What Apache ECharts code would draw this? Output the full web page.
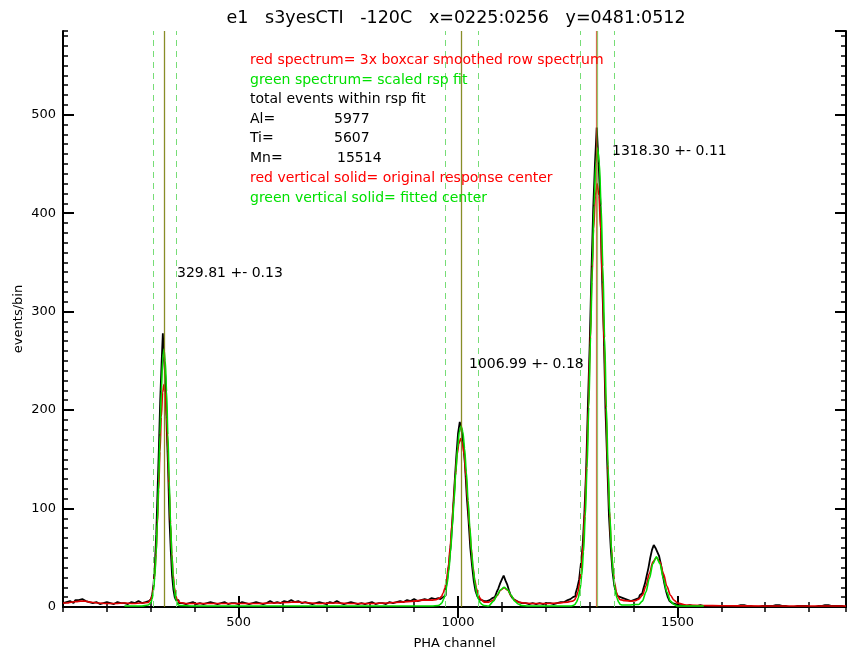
<!DOCTYPE html>
<html>
<head>
<meta charset="utf-8">
<title>e1 s3yesCTI -120C</title>
<script src="https://cdn.jsdelivr.net/npm/echarts@6/dist/echarts.min.js"></script>
<style>
  html, body { margin: 0; padding: 0; background: #fff; }
  #chart { width: 848px; height: 652px; }
</style>
</head>
<body>
<div id="chart"></div>
<script>
// raw row spectrum (black)
var rawChan = [100, 108, 116, 124, 132, 140, 148, 156, 164, 172, 180, 188, 196, 204, 212, 220, 228, 236, 244, 252, 260, 268, 276, 284, 292,
  299, 302, 305, 308, 311, 314, 317, 320, 323, 326, 329, 332, 335, 338, 341, 344, 347, 350, 353, 356, 359,
  368, 376, 384, 392, 400, 408, 416, 424, 432, 440, 448, 456, 464, 472, 480, 488, 496, 504, 512, 520, 528, 536, 544, 552, 560, 568,
  576, 584, 592, 600, 608, 616, 624, 632, 640, 648, 656, 664, 672, 680, 688, 696, 704, 712, 720, 728, 736, 744, 752, 760, 768, 776,
  784, 792, 800, 808, 816, 824, 832, 840, 848, 856, 864, 872, 880, 888, 896, 904, 912, 920, 928, 936, 944, 952,
  958, 962, 966, 970, 974, 978, 982, 986, 990, 994, 998, 1002, 1006, 1010, 1014, 1018, 1022, 1026, 1030, 1034, 1038, 1042, 1046, 1050, 1054, 1058, 1062,
  1066, 1070, 1074, 1078, 1082, 1086, 1090, 1094, 1098, 1102, 1106, 1110, 1114, 1118, 1122, 1126, 1130, 1134,
  1142, 1150, 1158, 1166, 1174, 1182, 1190, 1198, 1206, 1214, 1222, 1230, 1238, 1246, 1254,
  1258, 1262, 1266, 1270, 1274, 1278, 1282, 1286, 1290, 1294, 1298, 1302, 1306, 1310, 1314, 1318, 1322, 1326, 1330, 1334, 1338, 1342, 1346, 1350, 1354, 1358, 1362, 1366, 1370, 1374, 1378, 1382,
  1388, 1394, 1400, 1406, 1412, 1416, 1420, 1424, 1428, 1432, 1436, 1440, 1444, 1448, 1452, 1456, 1460, 1464, 1468, 1472, 1476, 1480, 1484, 1488, 1492,
  1500, 1508, 1516, 1524, 1532, 1540, 1548, 1556, 1564, 1580, 1596, 1612, 1628, 1644, 1660, 1676, 1692, 1708, 1724, 1740, 1756, 1772, 1788, 1804, 1820, 1836, 1852, 1868, 1884];
var rawCounts = [4, 5, 6, 4, 7, 8, 6, 5, 4, 5, 3, 4, 5, 4, 3, 5, 4, 4, 3, 5, 4, 6, 4, 5, 6,
  6, 8, 13, 24, 44, 74, 118, 162, 210, 246, 278, 250, 232, 180, 140, 90, 58, 32, 18, 10, 7,
  4, 3, 4, 5, 3, 4, 3, 4, 5, 4, 3, 4, 5, 3, 4, 4, 3, 5, 4, 3, 4, 5, 4, 3, 4, 6,
  4, 5, 4, 6, 5, 7, 5, 6, 4, 5, 4, 3, 4, 5, 4, 3, 5, 4, 6, 4, 3, 4, 5, 4, 3, 4,
  3, 4, 5, 3, 4, 4, 3, 5, 4, 5, 6, 5, 7, 6, 8, 6, 7, 8, 7, 9, 8, 9,
  8, 9, 10, 12, 18, 30, 46, 66, 94, 124, 152, 176, 188, 180, 166, 144, 112, 88, 60, 42, 26, 16, 11, 8, 7, 6, 6,
  6, 7, 7, 9, 10, 12, 15, 19, 24, 28, 32, 27, 23, 17, 12, 9, 7, 5,
  4, 4, 3, 4, 3, 4, 3, 4, 4, 3, 4, 5, 5, 7, 8,
  9, 10, 11, 14, 20, 28, 44, 62, 96, 140, 206, 266, 340, 404, 450, 487, 454, 414, 338, 280, 200, 146, 92, 60, 36, 22, 14, 11, 10, 9, 8, 8,
  7, 6, 7, 8, 9, 12, 14, 18, 24, 32, 40, 50, 58, 63, 60, 56, 52, 44, 34, 24, 16, 10, 6, 4, 3,
  2, 2, 1, 2, 1, 1, 2, 1, 0, 1, 1, 0, 1, 2, 1, 0, 1, 1, 2, 1, 0, 1, 1, 0, 1, 2, 1, 1, 0];

// 3x boxcar smoothed spectrum (red)
var smoothChan = [100, 110, 120, 130, 140, 150, 160, 170, 180, 200, 220, 240, 260, 280, 294,
  300, 303, 306, 309, 312, 315, 318, 321, 324, 327, 330, 333, 336, 339, 342, 345, 348, 351, 354, 357, 360, 366,
  380, 420, 460, 500, 540, 580, 610, 630, 650, 680, 720, 760, 800, 840, 870, 900, 920, 940, 950,
  958, 962, 966, 970, 974, 978, 982, 986, 990, 994, 998, 1002, 1006, 1010, 1014, 1018, 1022, 1026, 1030, 1034, 1038, 1042, 1046, 1050, 1054,
  1060, 1070, 1081, 1089, 1097, 1105, 1113, 1121, 1129, 1137, 1150, 1170, 1200, 1230, 1250,
  1261, 1265, 1269, 1273, 1277, 1281, 1285, 1289, 1293, 1297, 1301, 1305, 1309, 1313, 1317, 1321, 1325, 1329, 1333, 1337, 1341, 1345, 1349, 1353, 1357, 1361, 1365, 1369,
  1380, 1395, 1404, 1412, 1420, 1428, 1436, 1444, 1452, 1460, 1468, 1476, 1484, 1492, 1500, 1520, 1560, 1600, 1700, 1800, 1884];
var smoothCounts = [4, 4, 5, 5.5, 6, 6, 5, 4.5, 4, 3.5, 3.5, 4, 3.5, 4, 4.5,
  7.5, 11.5, 19.5, 33, 54, 84, 119, 158, 193, 218, 226, 218, 193, 158, 119, 84, 54, 33, 19.5, 11.5, 7.5, 4.5,
  3.5, 3.5, 3.5, 3.5, 3.5, 4, 4.5, 5, 4.5, 3.5, 4, 3.5, 3.5, 4, 5, 6, 7, 7, 7.5,
  9, 10.5, 14, 19, 28, 41, 60, 83, 108, 133, 155, 166, 171, 166, 155, 133, 108, 83, 60, 41, 28, 19, 13, 9, 7,
  5, 5, 7, 11.5, 17, 19.5, 17, 11.5, 7, 5, 4, 3.5, 3.5, 4, 5,
  6, 7, 9.5, 15, 24, 39, 63, 98, 145, 202, 266, 330, 384, 418, 430, 418, 384, 330, 266, 202, 145, 98, 63, 39, 24, 15, 10, 7.5,
  6.5, 6, 6.5, 8, 12, 21, 34, 46, 50, 46, 34, 21, 12, 7, 4, 2, 1.5, 1.2, 1, 1, 1];

// scaled rsp fit (green)
var fitChan = [240, 260, 280, 294,
  300, 303, 306, 309, 312, 315, 318, 321, 324, 327, 330, 333, 336, 339, 342, 345, 348, 351, 354, 357, 360, 363, 366,
  400, 500, 600, 700, 800, 900, 940,
  955, 959, 963, 967, 971, 975, 979, 983, 987, 991, 995, 999, 1003, 1007, 1011, 1015, 1019, 1023, 1027, 1031, 1035, 1039, 1043, 1047, 1051, 1055, 1059,
  1070, 1081, 1089, 1097, 1105, 1113, 1121, 1129, 1137, 1145, 1160, 1200, 1240,
  1258, 1262, 1266, 1270, 1274, 1278, 1282, 1286, 1290, 1294, 1298, 1302, 1306, 1310, 1314, 1318, 1322, 1326, 1330, 1334, 1338, 1342, 1346, 1350, 1354, 1358, 1362, 1366, 1370, 1374, 1378,
  1390, 1404, 1412, 1420, 1428, 1436, 1444, 1452, 1460, 1468, 1476, 1484, 1492, 1500, 1530, 1560];
var fitCounts = [1, 1, 1, 2,
  4, 8, 16, 30, 53, 86, 128, 175, 219, 250, 262, 250, 219, 175, 128, 86, 53, 30, 16, 8, 4, 2, 1.5,
  1, 1, 1, 1, 1, 1, 1,
  1.5, 2.5, 4, 7.6, 13, 23, 37, 56, 81, 108, 137, 161, 178, 184, 178, 161, 137, 108, 81, 56, 37, 23, 13, 7.6, 4, 2.5, 1.5,
  1, 6, 12, 17.5, 20, 17.5, 12, 6, 3, 1.5, 1, 1, 1,
  1, 1.5, 2.5, 5, 9, 18, 32, 56, 92, 141, 203, 274, 346, 408, 451, 466, 451, 408, 346, 274, 203, 141, 92, 56, 32, 18, 9, 5, 2.5, 2, 2,
  2, 2.5, 2.5, 6, 15, 29, 44, 51, 44, 29, 15, 6, 2.5, 1, 1, 1];

// line centers and fit windows
var fitCenters = [329.81, 1006.99, 1318.30];
var fitErrors = ['0.13', '0.18', '0.11'];
var origCenters = [329.8, 1007, 1315];
var windowLo = [306, 972, 1279];
var windowHi = [358, 1045, 1356];

var elemNames = ['Al=', 'Ti=', 'Mn='];
var elemTotals = ['5977', '5607', '15514'];

var xMajorTicks = [500, 1000, 1500];

function zip(a, b) {
    return a.map(function (v, i) { return [v, b[i]]; });
}

var chart = echarts.init(document.getElementById('chart'));
var FONT = '"DejaVu Sans", "Liberation Sans", sans-serif';
var TXT = '14px ' + FONT;

var textItems = [];
var pushText = function (x, y, text, color) {
    textItems.push({
        type: 'text', x: x, y: y, z: 100,
        style: { text: text, fill: color, font: TXT, verticalAlign: 'middle' }
    });
};
pushText(250, 60, 'red spectrum= 3x boxcar smoothed row spectrum', '#ff0000');
pushText(250, 80, 'green spectrum= scaled rsp fit', '#00e000');
pushText(250, 99, 'total events within rsp fit', '#000');
var rowsY = [119, 138, 158];
var totalsX = [334, 334, 337];
elemNames.forEach(function (n, i) {
    pushText(250, rowsY[i], n, '#000');
    pushText(totalsX[i], rowsY[i], elemTotals[i], '#000');
});
pushText(250, 178, 'red vertical solid= original response center', '#ff0000');
pushText(250, 198, 'green vertical solid= fitted center', '#00e000');

var labelPos = [[177, 273], [469, 364], [612, 151]];
fitCenters.forEach(function (c, i) {
    pushText(labelPos[i][0], labelPos[i][1], c.toFixed(2) + ' +- ' + fitErrors[i], '#000');
});

textItems.push({
    type: 'text', x: 456, y: 18,
    style: { text: 'e1   s3yesCTI   -120C   x=0225:0256   y=0481:0512', fill: '#000',
        font: '17.5px ' + FONT, align: 'center', verticalAlign: 'middle' }
});

var frameLine = { show: true, lineStyle: { color: '#000', width: 2 } };
var noLabel = { show: false };

var option = {
    backgroundColor: '#fff',
    animation: false,
    grid: { left: 63, right: 2, top: 31, bottom: 45, containLabel: false, outerBoundsMode: 'none' },
    graphic: textItems,
    xAxis: [{
        type: 'value', position: 'bottom', min: 100, max: 1884, interval: 100,
        axisLine: frameLine,
        axisTick: { inside: true, length: 5, lineStyle: { color: '#000', width: 1.5 } },
        axisLabel: {
            color: '#000', fontSize: 13, fontFamily: FONT, margin: 9,
            formatter: function (v) { return xMajorTicks.indexOf(v) >= 0 ? String(v) : ''; }
        },
        splitLine: { show: false },
        name: 'PHA channel', nameLocation: 'middle', nameGap: 30,
        nameTextStyle: { color: '#000', fontSize: 13, fontFamily: FONT }
    }, {
        type: 'value', position: 'bottom', min: 100, max: 1884,
        axisLine: { show: false },
        axisTick: { inside: true, length: 11, customValues: xMajorTicks, lineStyle: { color: '#000', width: 2 } },
        axisLabel: noLabel, splitLine: { show: false }
    }, {
        type: 'value', position: 'top', min: 100, max: 1884, interval: 100,
        axisLine: frameLine,
        axisTick: { inside: true, length: 5, lineStyle: { color: '#000', width: 1.5 } },
        axisLabel: noLabel, splitLine: { show: false }
    }, {
        type: 'value', position: 'top', min: 100, max: 1884,
        axisLine: { show: false },
        axisTick: { inside: true, length: 11, customValues: xMajorTicks, lineStyle: { color: '#000', width: 2 } },
        axisLabel: noLabel, splitLine: { show: false }
    }],
    yAxis: [{
        type: 'value', position: 'left', min: 0, max: 585, interval: 100,
        axisLine: frameLine,
        axisTick: { inside: true, length: 11, lineStyle: { color: '#000', width: 2 } },
        axisLabel: { color: '#000', fontSize: 13, fontFamily: FONT, margin: 7, showMaxLabel: false },
        splitLine: { show: false },
        name: 'events/bin', nameLocation: 'middle', nameGap: 38, nameRotate: 90, nameMoveOverlap: false,
        nameTextStyle: { color: '#000', fontSize: 13, fontFamily: FONT }
    }, {
        type: 'value', position: 'left', min: 0, max: 585, interval: 10,
        axisLine: { show: false },
        axisTick: { inside: true, length: 5, lineStyle: { color: '#000', width: 1.5 } },
        axisLabel: noLabel, splitLine: { show: false }
    }, {
        type: 'value', position: 'right', min: 0, max: 585, interval: 100,
        axisLine: frameLine,
        axisTick: { inside: true, length: 11, lineStyle: { color: '#000', width: 2 } },
        axisLabel: noLabel, splitLine: { show: false }
    }, {
        type: 'value', position: 'right', min: 0, max: 585, interval: 10,
        axisLine: { show: false },
        axisTick: { inside: true, length: 5, lineStyle: { color: '#000', width: 1.5 } },
        axisLabel: noLabel, splitLine: { show: false }
    }],
    series: [{
        name: 'raw', type: 'line', step: 'middle', showSymbol: false,
        lineStyle: { color: '#000', width: 1.8 },
        data: zip(rawChan, rawCounts)
    }, {
        name: 'smoothed', type: 'line', smooth: 0.3, smoothMonotone: 'x', showSymbol: false,
        lineStyle: { color: '#e00000', width: 1.6 },
        data: zip(smoothChan, smoothCounts),
        markLine: {
            silent: true, symbol: 'none', label: { show: false },
            lineStyle: { color: 'rgba(208,64,32,0.75)', width: 1.2, type: 'solid' },
            data: origCenters.map(function (c) { return { xAxis: c }; })
        }
    }, {
        name: 'fit', type: 'line', smooth: 0.3, smoothMonotone: 'x', showSymbol: false,
        lineStyle: { color: '#00dd00', width: 1.6 },
        data: zip(fitChan, fitCounts),
        markLine: {
            silent: true, symbol: 'none', label: { show: false },
            data: fitCenters.map(function (c) {
                return { xAxis: c, lineStyle: { color: 'rgba(64,170,0,0.55)', width: 1.2, type: 'solid' } };
            }).concat(windowLo.concat(windowHi).map(function (c) {
                return { xAxis: c, lineStyle: { color: '#77dd77', width: 1, type: [6, 5] } };
            }))
        }
    }]
};

chart.setOption(option);
</script>
</body>
</html>
